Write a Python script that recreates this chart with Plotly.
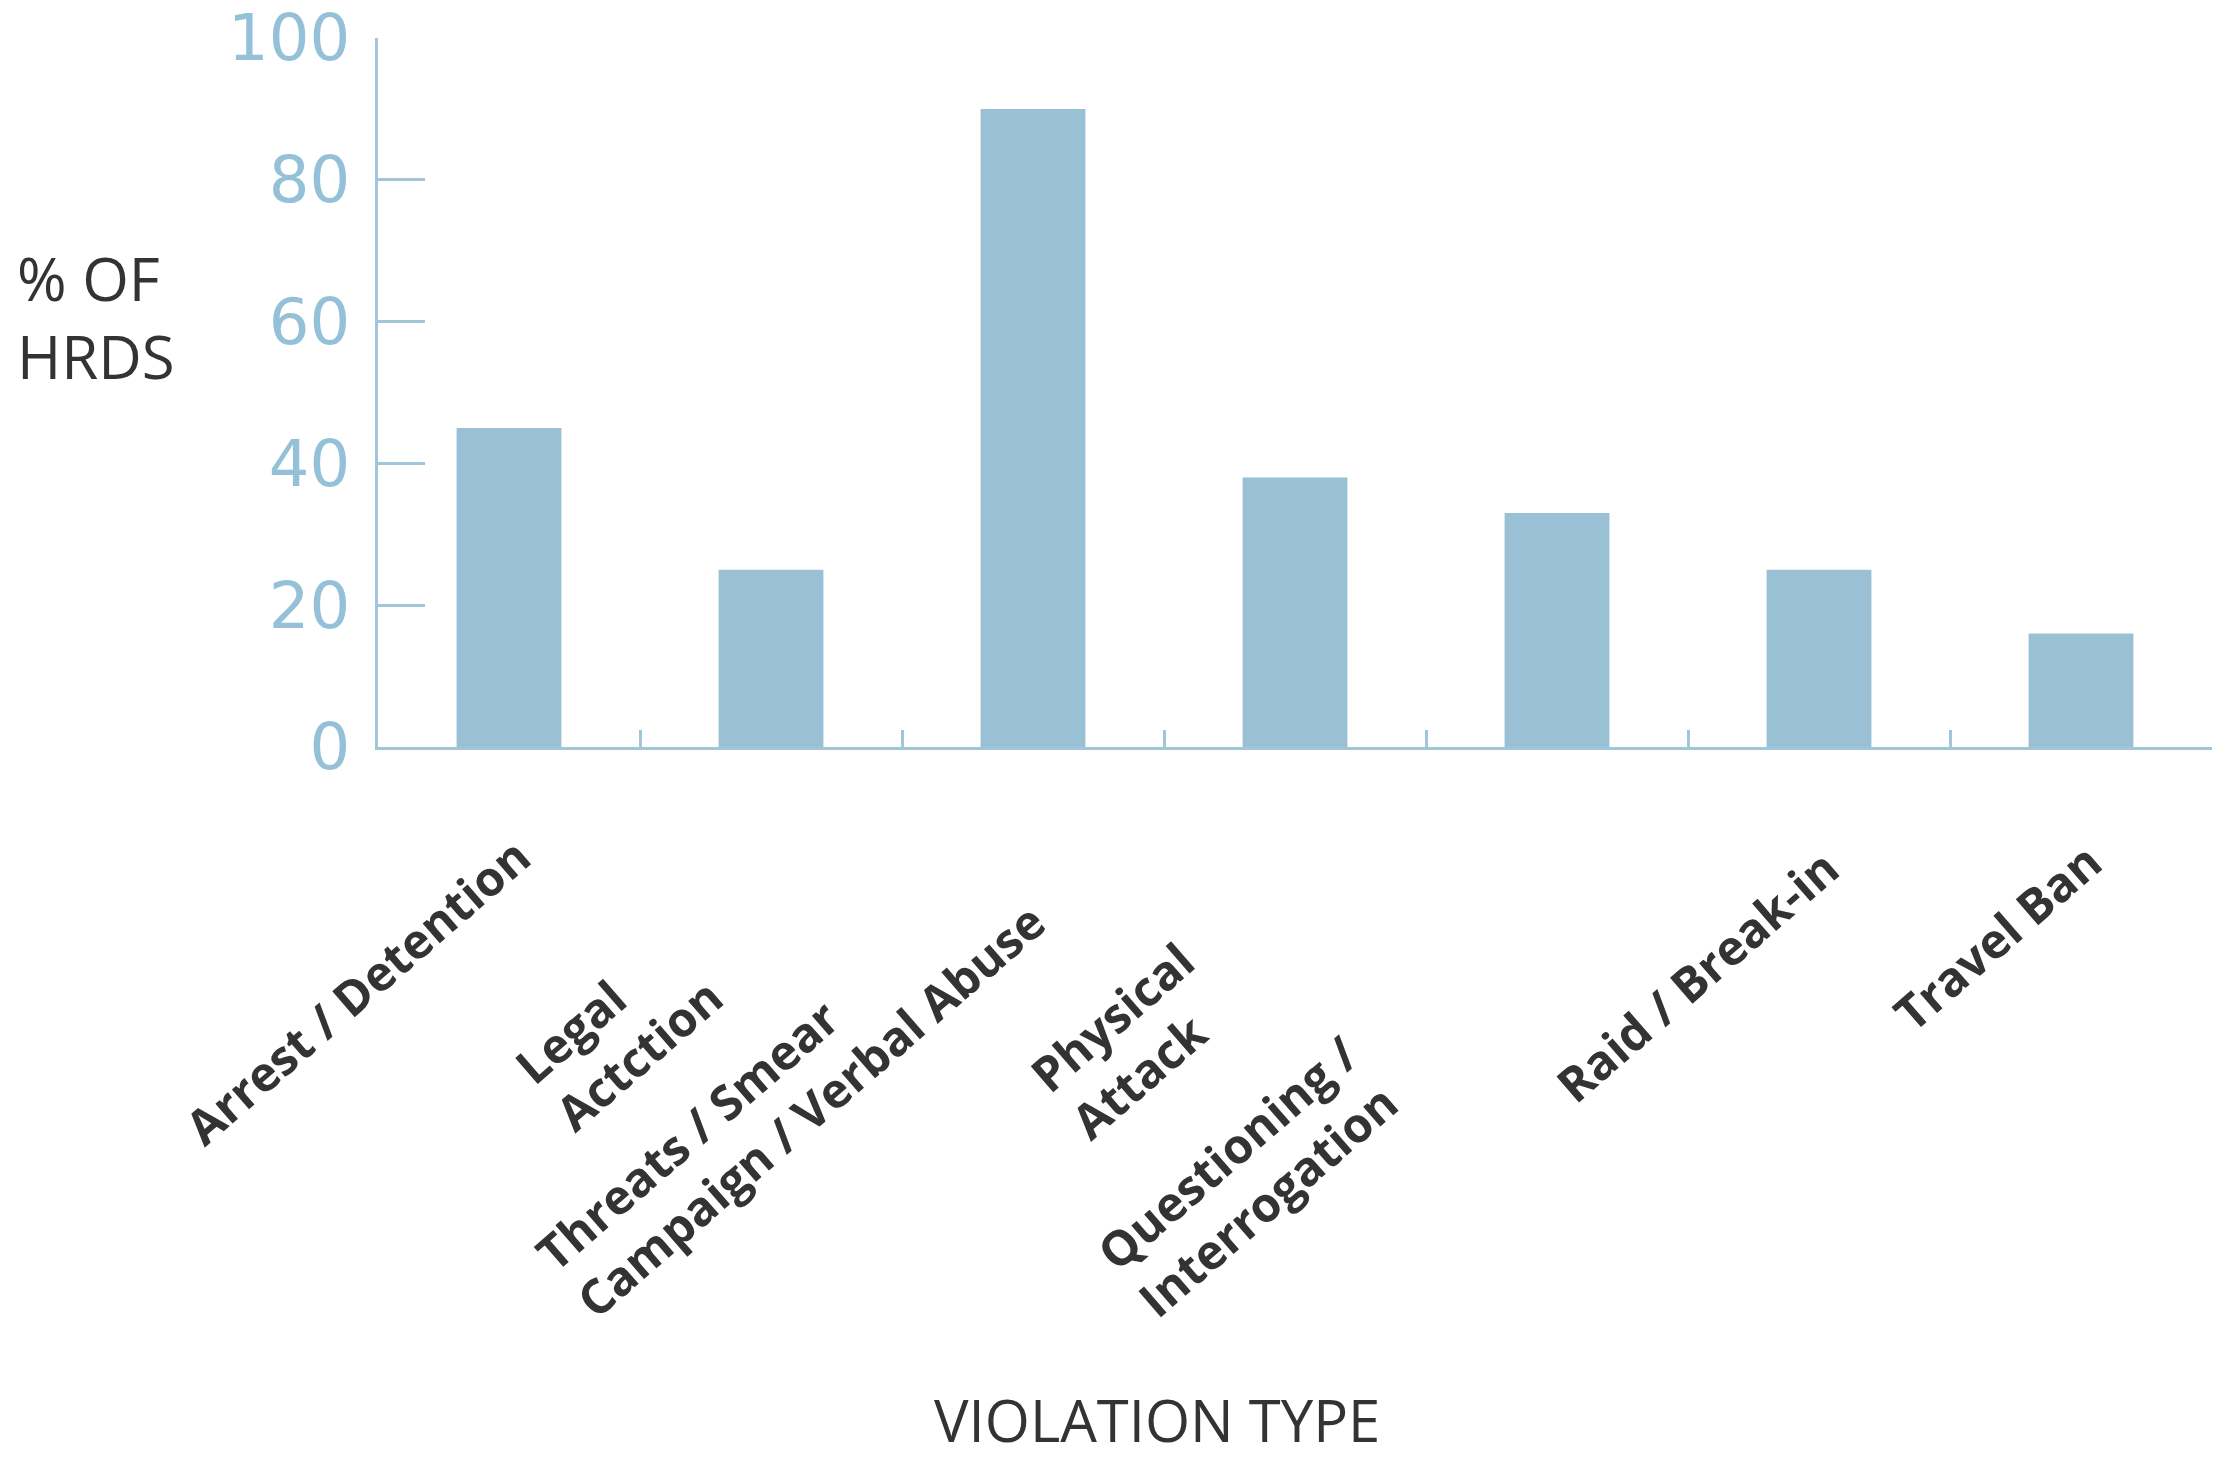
import plotly.graph_objects as go

# ---- data ----
categories = ["Arrest / Detention", "Legal Actction", "Threats / Smear Campaign / Verbal Abuse",
              "Physical Attack", "Questioning / Interrogation", "Raid / Break-in", "Travel Ban"]
tick_labels = ["Arrest / Detention", "Legal<br>Actction", "Threats / Smear<br>Campaign / Verbal Abuse",
               "Physical<br>Attack", "Questioning /<br>Interrogation", "Raid / Break-in", "Travel Ban"]
values = [45, 25, 90, 38, 33, 25, 16]
y_ticks = [0, 20, 40, 60, 80, 100]
y_title = "% OF<br>HRDS"
x_title = "VIOLATION TYPE"

# ---- style ----
BAR = "#9ac0d5"
AXIS = "#a2c6d9"
DARK = "#333333"
label_shift = [(37, -73), (-33, -167), (27, -92), (-45, -178), (-142, -271), (35, -85), (36, -79)]

fig = go.Figure(go.Bar(x=categories, y=values, marker=dict(color=BAR, line=dict(width=0)),
                       width=0.4))

fig.update_layout(
    width=2235, height=1461,
    margin=dict(l=378, r=23, t=38, b=714, autoexpand=False),
    paper_bgcolor="white", plot_bgcolor="white",
    showlegend=False,
    xaxis=dict(type="category", range=[-0.5, 6.5], automargin=False,
               showline=True, linecolor=AXIS, linewidth=3,
               ticks="inside", tickson="boundaries", ticklen=17, tickwidth=2.5, tickcolor=AXIS,
               showticklabels=False, showgrid=False, zeroline=False),
    yaxis=dict(range=[0, 100], tickvals=y_ticks, automargin=False,
               showline=True, linecolor=AXIS, linewidth=3,
               ticks="inside", ticklen=47, tickwidth=2.5, tickcolor=AXIS,
               tickfont=dict(family="DejaVu Sans", size=64, color="#94c1d8"),
               ticklabelstandoff=12, showgrid=False, zeroline=False),
)

for cat, lab, (dx, dy) in zip(categories, tick_labels, label_shift):
    fig.add_annotation(x=cat, y=0, xref="x", yref="y", text=lab, showarrow=False,
                       textangle=-41, xanchor="right", yanchor="top", align="left",
                       xshift=dx, yshift=dy,
                       font=dict(family="Open Sans", size=48, color=DARK, weight="bold"))

fig.add_annotation(x=-0.198, y=0.6065, xref="paper", yref="paper", text=y_title, showarrow=False,
                   xanchor="left", yanchor="middle", align="left",
                   font=dict(family="Open Sans", size=60, color=DARK))
fig.add_annotation(x=0.4248, y=-0.949, xref="paper", yref="paper", text=x_title, showarrow=False,
                   xanchor="center", yanchor="middle",
                   font=dict(family="Open Sans", size=58, color=DARK))

fig.write_html("out.html", config={"displayModeBar": False},
               post_script="document.body.style.margin='0';")
